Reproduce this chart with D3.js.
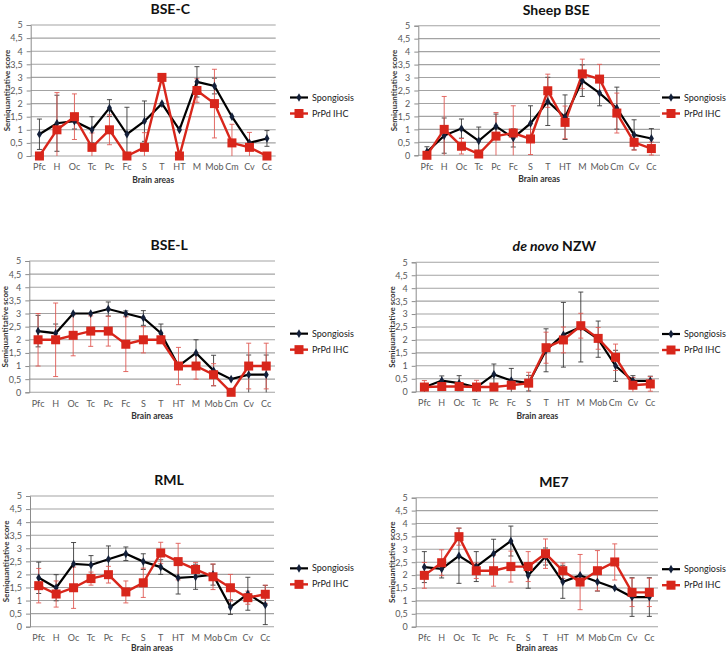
<!DOCTYPE html>
<html><head><meta charset="utf-8">
<script src="https://cdn.jsdelivr.net/npm/d3@7"></script>
<style>body{margin:0;background:#fff}svg{display:block}</style></head>
<body>
<svg id="c" width="728" height="654"></svg>
<script>
// ---------- data ----------
const categories = ["Pfc","H","Oc","Tc","Pc","Fc","S","T","HT","M","Mob","Cm","Cv","Cc"];
const yTicks = [0,0.5,1,1.5,2,2.5,3,3.5,4,4.5,5];
const seriesNames = ["Spongiosis","PrPd IHC"];
const panelTitles = ["BSE-C","Sheep BSE","BSE-L","de novo NZW","RML","ME7"];

// BSE-C
const bsecSpong    = [0.83,1.25,1.33,1.0,1.83,0.83,1.33,2.0,1.0,2.83,2.67,1.5,0.5,0.67];
const bsecSpongErr = [0.58,1.07,0.3,0.5,0.32,1.03,0.77,0,0,0.58,0.3,0,0,0.3];
const bsecPrpd     = [0,1.0,1.5,0.33,1.0,0,0.33,3.0,0,2.5,2.0,0.5,0.33,0];
const bsecPrpdErr  = [0,1.42,0.87,0.55,0.57,0,0.56,0,0,0.45,1.31,0.71,0.57,0];
// Sheep BSE
const sheepSpong    = [0.13,0.76,1.03,0.56,1.12,0.67,1.23,2.08,1.47,2.88,2.4,1.82,0.79,0.65];
const sheepSpongErr = [0.2,0.68,0.37,0.53,0.47,0.35,0.68,0.93,0.86,0.61,0.49,0.81,0.58,0.38];
const sheepPrpd     = [0,1.0,0.35,0.05,0.74,0.86,0.63,2.49,1.27,3.14,2.94,1.63,0.5,0.26];
const sheepPrpdErr  = [0,1.27,0.3,0.1,0.91,1.05,0.6,0.64,0.63,0.57,0.57,0.77,0.3,0.25];
// BSE-L
const bselSpong    = [2.33,2.25,3.0,3.0,3.17,3.0,2.83,2.25,1.0,1.5,0.83,0.5,0.67,0.67];
const bselSpongErr = [0.6,0.35,0,0,0.27,0.1,0.28,0.35,0,0.5,0.58,0,0.75,0.75];
const bselPrpd     = [2.0,2.0,2.17,2.33,2.33,1.83,2.0,2.0,1.0,1.0,0.67,0,1.0,1.0];
const bselPrpdErr  = [1.0,1.4,0.78,0.58,0.57,1.04,0.5,0,0.71,0.5,0.42,0,0.87,0.87];
// de novo NZW
const nzwSpong    = [0.17,0.43,0.33,0.17,0.67,0.43,0.33,1.6,2.2,2.5,2.03,1.0,0.42,0.42];
const nzwSpongErr = [0,0.18,0.29,0,0.4,0.47,0.3,0.83,1.25,1.35,0.7,0.6,0.2,0.18];
const nzwPrpd     = [0.18,0.2,0.2,0.18,0.18,0.25,0.33,1.7,2.0,2.55,2.06,1.33,0.25,0.3];
const nzwPrpdErr  = [0.25,0,0,0.26,0,0,0.42,0.6,0.5,0.48,0.42,0.51,0.3,0.28];
// RML
const rmlSpong    = [1.87,1.49,2.4,2.36,2.58,2.79,2.49,2.28,1.87,1.91,1.99,0.75,1.26,0.83];
const rmlSpongErr = [0.6,0.5,0.82,0.36,0.51,0.26,0.3,0.28,0.62,0.48,0.4,0.28,0.63,0.75];
const rmlPrpd     = [1.57,1.25,1.49,1.84,1.99,1.33,1.68,2.82,2.49,2.19,1.91,1.49,1.11,1.24];
const rmlPrpdErr  = [0.66,0.5,0.79,0.25,0.32,0.42,0.56,0.41,0.7,0.27,0.49,0.51,0.25,0.35];
// ME7
const me7Spong    = [2.31,2.24,2.75,2.33,2.83,3.32,1.99,2.72,1.74,1.99,1.74,1.5,1.15,1.15];
const me7SpongErr = [0.6,0.35,1.07,0.58,0.56,0.58,0.5,0.33,0.64,0,0.36,0,0.75,0.75];
const me7Prpd     = [1.99,2.48,3.49,2.17,2.17,2.33,2.33,2.83,2.17,1.73,2.17,2.51,1.33,1.33];
const me7PrpdErr  = [0.5,0.5,0.33,0.3,0.6,0.6,0.58,0.57,0.3,1.07,0.78,0.7,0.55,0.55];

const seriesData = [
  [bsecSpong, bsecSpongErr, bsecPrpd, bsecPrpdErr],
  [sheepSpong, sheepSpongErr, sheepPrpd, sheepPrpdErr],
  [bselSpong, bselSpongErr, bselPrpd, bselPrpdErr],
  [nzwSpong, nzwSpongErr, nzwPrpd, nzwPrpdErr],
  [rmlSpong, rmlSpongErr, rmlPrpd, rmlPrpdErr],
  [me7Spong, me7SpongErr, me7Prpd, me7PrpdErr]
];

// ---------- layout ----------
const layouts = [
  {l:30.7, r:275.7, t:25,    b:156,   legX:290},
  {l:418.3,r:660,   t:25.7,  b:155.3, legX:662},
  {l:29.3, r:275,   t:261,   b:392.3, legX:290},
  {l:415.7,r:659,   t:262.3, b:391.7, legX:662},
  {l:30,   r:274,   t:496,   b:626.7, legX:290},
  {l:415.7,r:658,   t:497.7, b:626.7, legX:662}
];

const FONT = "Lato, 'Open Sans', Arial, sans-serif";
const RED = "#d8261b", BLACK = "#000", MARK = "#14203a";
const svg = d3.select("#c");
const fmt = d => String(d).replace(".", ",");

layouts.forEach((L, i) => {
  const [sp, spE, pr, prE] = seriesData[i];
  const g = svg.append("g");
  const x = d3.scaleBand().domain(categories).range([L.l, L.r]);
  const y = d3.scaleLinear().domain([0,5]).range([L.b, L.t]);
  const cx = c => x(c) + x.bandwidth()/2;

  // gridlines
  g.append("g").selectAll("line").data(yTicks).join("line")
    .attr("x1", L.l).attr("x2", L.r)
    .attr("y1", d => y(d)).attr("y2", d => y(d))
    .attr("stroke", "#a3a3a3").attr("stroke-width", 1.1);

  // y axis
  const ax = g.append("g").attr("transform", `translate(${L.l},0)`)
    .call(d3.axisLeft(y).tickValues(yTicks).tickFormat(fmt).tickSize(4).tickPadding(4));
  ax.select(".domain").attr("stroke", "#8c8c8c").attr("stroke-width", 1);
  ax.selectAll(".tick line").attr("stroke", "#8c8c8c");
  ax.selectAll("text").attr("font-family", FONT).attr("font-size", 9).attr("fill", "#595959");

  // x labels
  const xa = g.append("g").attr("transform", `translate(0,${L.b})`)
    .call(d3.axisBottom(x).tickSize(0).tickPadding(8));
  xa.select(".domain").remove();
  xa.selectAll("text").attr("font-family", FONT).attr("font-size", 9).attr("fill", "#595959");

  // titles
  const tcx = (L.l + L.r)/2 + 17;
  const title = g.append("text").attr("x", tcx).attr("y", L.t - 11)
    .attr("text-anchor", "middle").attr("font-family", FONT)
    .attr("font-weight", "bold").attr("font-size", 14).attr("fill", "#111");
  if (panelTitles[i].startsWith("de novo")) {
    title.append("tspan").attr("font-style", "italic").text("de novo");
    title.append("tspan").text(" NZW");
  } else title.text(panelTitles[i]);

  g.append("text").attr("x", (L.l + L.r)/2).attr("y", Math.min(L.b + 27, 650.5))
    .attr("text-anchor", "middle").attr("font-family", FONT)
    .attr("font-weight", "bold").attr("font-size", 8.5).attr("fill", "#333").text("Brain areas");
  g.append("text")
    .attr("transform", `translate(${L.l - 21},${(L.t + L.b)/2}) rotate(-90)`)
    .attr("text-anchor", "middle").attr("font-family", FONT)
    .attr("font-weight", "bold").attr("font-size", 8).attr("fill", "#333").text("Semiquantitative score");

  // error bars
  function errBars(vals, errs, color, w) {
    const eg = g.append("g").attr("stroke", color).attr("stroke-width", w);
    categories.forEach((c, k) => {
      const e = errs[k]; if (!e) return;
      const lo = Math.max(0, vals[k] - e), hi = Math.min(5, vals[k] + e);
      const xx = cx(c);
      eg.append("line").attr("x1", xx).attr("x2", xx).attr("y1", y(lo)).attr("y2", y(hi));
      if (vals[k] + e <= 5) eg.append("line").attr("x1", xx-2.5).attr("x2", xx+2.5).attr("y1", y(hi)).attr("y2", y(hi));
      if (vals[k] - e >= 0) eg.append("line").attr("x1", xx-2.5).attr("x2", xx+2.5).attr("y1", y(lo)).attr("y2", y(lo));
    });
  }
  errBars(sp, spE, "#3a3a3a", 0.9);
  errBars(pr, prE, "#e05a55", 0.9);

  const line = d3.line().x((d, k) => cx(categories[k])).y(d => y(d));
  g.append("path").attr("d", line(sp)).attr("fill", "none").attr("stroke", BLACK).attr("stroke-width", 2.2);
  g.append("path").attr("d", line(pr)).attr("fill", "none").attr("stroke", RED).attr("stroke-width", 2.4);

  g.append("g").selectAll("path").data(sp).join("path")
    .attr("transform", (d, k) => `translate(${cx(categories[k])},${y(d)})`)
    .attr("d", d3.symbol(d3.symbolDiamond, 22)).attr("fill", MARK);
  g.append("g").selectAll("rect").data(pr).join("rect")
    .attr("x", (d, k) => cx(categories[k]) - 4.5).attr("y", d => y(d) - 4.5)
    .attr("width", 9).attr("height", 9).attr("fill", RED);

  // legend
  const my = (L.t + L.b)/2;
  const leg = g.append("g");
  [[my + 7, BLACK, "d"], [my + 23, RED, "s"]].forEach(([ly, col, m], j) => {
    leg.append("line").attr("x1", L.legX).attr("x2", L.legX + 18).attr("y1", ly).attr("y2", ly)
      .attr("stroke", col).attr("stroke-width", j ? 2.4 : 2.2);
    if (m === "d") leg.append("path").attr("transform", `translate(${L.legX + 9},${ly})`)
      .attr("d", d3.symbol(d3.symbolDiamond, 22)).attr("fill", MARK);
    else leg.append("rect").attr("x", L.legX + 4.5).attr("y", ly - 4.5).attr("width", 9).attr("height", 9).attr("fill", RED);
    leg.append("text").attr("x", L.legX + 22).attr("y", ly + 3).attr("font-family", FONT)
      .attr("font-size", 9).attr("fill", "#222").text(seriesNames[j]);
  });
});
</script>
</body></html>
